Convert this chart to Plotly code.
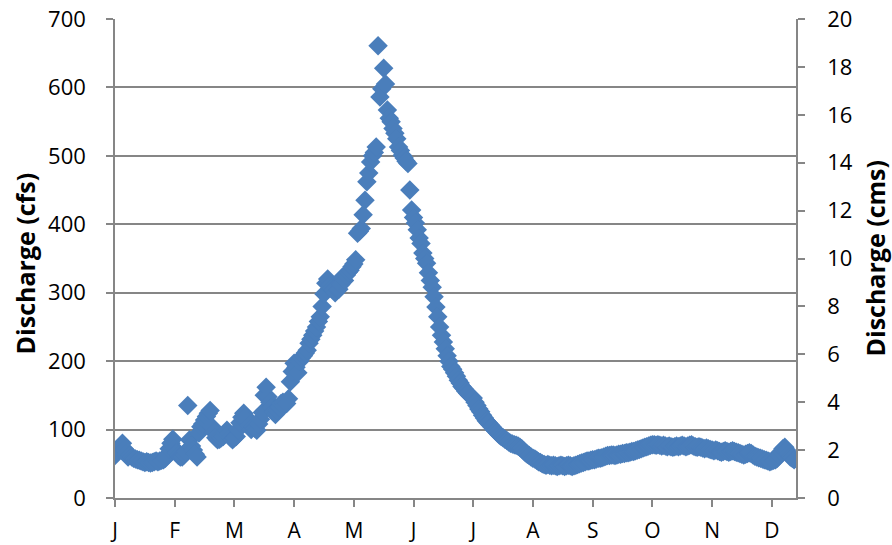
import plotly.graph_objects as go

# Day index of each daily reading (0 = 1 January)
days = list(range(365))

# Daily discharge, cfs
jan = [62, 66, 72, 75, 80, 72, 64, 60, 63, 60, 58, 57, 56, 55, 54, 53, 52, 53, 52, 51,
       52, 53, 54, 53, 54, 55, 56, 58, 62, 72, 80]
feb = [86, 72, 66, 62, 60, 60, 63, 68, 135, 85, 76, 70, 64, 60, 95, 104, 108, 114, 119, 124,
       128, 104, 96, 88, 85, 86, 88, 90]
mar = [95, 99, 94, 88, 85, 88, 90, 100, 110, 118, 124, 119, 112, 106, 100, 104, 102, 99, 108, 115,
       125, 150, 162, 148, 140, 132, 126, 122, 128, 133, 138]
apr = [140, 136, 138, 145, 170, 185, 197, 191, 183, 200, 205, 208, 212, 216, 226, 232, 238, 244, 250, 258,
       265, 280, 298, 314, 320, 310, 306, 304, 300, 304]
may = [305, 312, 323, 318, 326, 330, 333, 338, 342, 348, 387, 390, 394, 414, 435, 462, 475, 491, 500, 505,
       513, 661, 586, 598, 628, 605, 567, 555, 550, 540, 533]
jun = [525, 513, 508, 501, 497, 492, 489, 450, 421, 410, 402, 392, 380, 372, 358, 350, 343, 329, 318, 308,
       294, 279, 265, 250, 238, 228, 218, 208, 200, 192]
jul = [188, 183, 178, 172, 168, 163, 160, 156, 153, 150, 148, 146, 140, 135, 130, 126, 121, 117, 113, 110,
       107, 104, 101, 98, 95, 92, 90, 88, 86, 84, 82]
aug = [80, 79, 78, 77, 76, 74, 72, 69, 66, 64, 62, 60, 58, 57, 55, 53, 52, 50, 49, 48,
       49, 48, 47, 48, 47, 46, 47, 48, 47, 46, 47]
sep = [48, 47, 46, 47, 48, 49, 50, 51, 52, 53, 54, 54, 55, 56, 56, 57, 58, 58, 59, 60,
       61, 62, 62, 63, 63, 62, 63, 64, 64, 65]
oct_ = [65, 66, 66, 67, 68, 68, 69, 70, 71, 72, 73, 74, 75, 76, 77, 78, 78, 77, 78, 77,
        76, 77, 76, 75, 76, 75, 74, 75, 76, 75, 76]
nov = [77, 76, 75, 76, 77, 78, 76, 75, 74, 75, 74, 73, 72, 73, 72, 71, 70, 69, 70, 69,
       68, 67, 68, 69, 68, 67, 68, 69, 68, 67]
dec = [66, 65, 64, 63, 64, 65, 66, 65, 63, 61, 60, 59, 58, 57, 56, 55, 54, 53, 54, 55,
       56, 58, 62, 68, 72, 74, 70, 65, 60, 58, 56]

discharge_cfs = jan + feb + mar + apr + may + jun + jul + aug + sep + oct_ + nov + dec

# Axis ticks
month_labels = ["J", "F", "M", "A", "M", "J", "J", "A", "S", "O", "N", "D"]
month_tick_days = [0, 32, 64, 96, 128, 160, 192, 224, 256, 288, 320, 352]
cfs_ticks = [0, 100, 200, 300, 400, 500, 600, 700]
cms_ticks = [0, 2, 4, 6, 8, 10, 12, 14, 16, 18, 20]

AXIS_GRAY = "#868686"
FONT = "Open Sans"

fig = go.Figure()
fig.add_trace(go.Scatter(
    x=days, y=discharge_cfs, mode="markers",
    marker=dict(symbol="diamond", size=15, color="#4A7EBB", line=dict(width=0)),
    showlegend=False,
))
# empty trace so the secondary (cms) axis is drawn
fig.add_trace(go.Scatter(x=[], y=[], yaxis="y2", mode="markers",
                         showlegend=False, hoverinfo="skip"))

axis_common = dict(
    zeroline=False, showline=True, linecolor=AXIS_GRAY, linewidth=1.5,
    ticks="outside", ticklen=7, tickcolor=AXIS_GRAY, tickwidth=1.5,
    automargin=False,
)

fig.update_layout(
    width=892, height=545,
    margin=dict(l=115, r=96, t=19, b=47),
    paper_bgcolor="white", plot_bgcolor="white",
    font=dict(family=FONT, size=22, color="black"),
    xaxis=dict(
        range=[0, 365], tickmode="array", tickvals=month_tick_days, ticktext=month_labels,
        showgrid=False, ticklabelstandoff=6, tickfont=dict(size=21), **axis_common,
    ),
    yaxis=dict(
        range=[0, 700], tickmode="array", tickvals=cfs_ticks,
        showgrid=True, gridcolor=AXIS_GRAY, gridwidth=1.5,
        ticklabelstandoff=16, **axis_common,
    ),
    yaxis2=dict(
        range=[0, 20], tickmode="array", tickvals=cms_ticks, overlaying="y", side="right",
        showgrid=False, ticklabelstandoff=18, **axis_common,
    ),
    annotations=[
        dict(text="<b>Discharge (cfs)</b>", xref="paper", yref="paper",
             x=-0.132, y=0.49, xanchor="center", yanchor="middle", textangle=-90,
             showarrow=False, font=dict(family=FONT, size=25, color="black")),
        dict(text="<b>Discharge (cms)</b>", xref="paper", yref="paper",
             x=1.116, y=0.50, xanchor="center", yanchor="middle", textangle=-90,
             showarrow=False, font=dict(family=FONT, size=25, color="black")),
    ],
)

fig.write_html("out.html", config={"displayModeBar": False},
               post_script="document.body.style.margin='0';")
